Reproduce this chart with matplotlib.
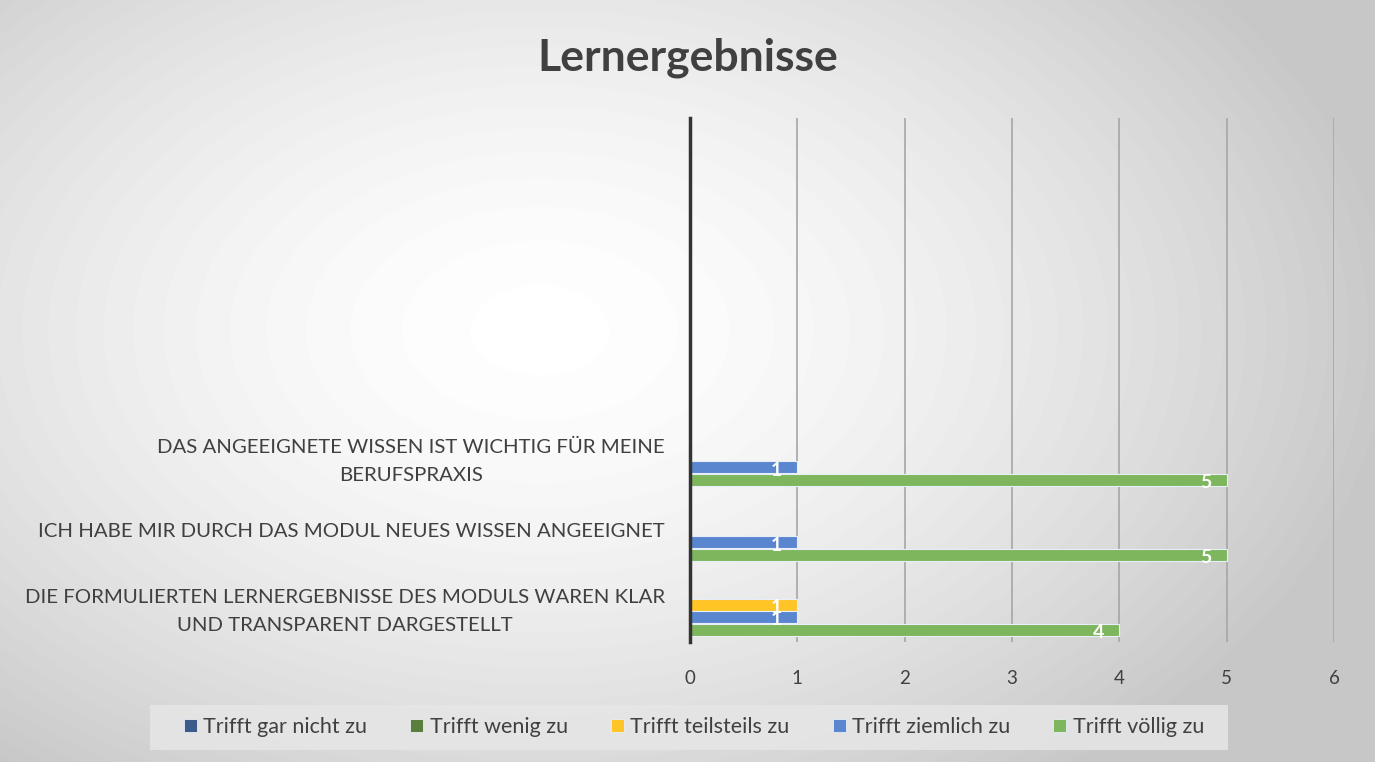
import numpy as np
import matplotlib.pyplot as plt
from matplotlib.patches import Rectangle, Patch

# Configure fonts
plt.rc('font', family=['Lato', 'DejaVu Sans'])

# Data (bottom to top, as drawn)
categories = [
    'DIE FORMULIERTEN LERNERGEBNISSE DES MODULS WAREN KLAR\nUND TRANSPARENT DARGESTELLT',
    'ICH HABE MIR DURCH DAS MODUL NEUES WISSEN ANGEEIGNET',
    'DAS ANGEEIGNETE WISSEN IST WICHTIG FÜR MEINE\nBERUFSPRAXIS',
]
series_names = ['Trifft gar nicht zu', 'Trifft wenig zu', 'Trifft teilsteils zu',
                'Trifft ziemlich zu', 'Trifft völlig zu']
gar_nicht = [0, 0, 0]
wenig = [0, 0, 0]
teilsteils = [1, 0, 0]
ziemlich = [1, 1, 1]
voellig = [4, 5, 5]
series_values = [gar_nicht, wenig, teilsteils, ziemlich, voellig]
colors = ['#3D5A8C', '#5A7F3C', '#FFC527', '#5A86CF', '#7DB65C']
x_ticks = [0, 1, 2, 3, 4, 5, 6]

text_col = '#404040'

fig = plt.figure(figsize=(13.75, 7.62), dpi=100)

# Radial gradient background
bg = fig.add_axes([0, 0, 1, 1], zorder=-10)
h, w = 762, 1375
yy, xx = np.mgrid[0:h, 0:w]
d = np.sqrt(((xx - 540) / 860.0) ** 2 + ((yy - 330) / 560.0) ** 2)
shade = 1.0 - 0.22 * np.clip(d, 0, 1) ** 1.6
bg.imshow(shade, cmap='gray', vmin=0, vmax=1, aspect='auto',
          extent=[0, 1, 0, 1], origin='upper')
bg.set_axis_off()

# Main axes
ax = fig.add_axes([690 / 1375, 1 - 642 / 762, 644 / 1375, 524 / 762])
ax.patch.set_alpha(0)

y = np.arange(len(categories))
slot = 0.168
for i, (name, vals, c) in enumerate(zip(series_names, series_values, colors)):
    pos = y + (2 - i) * slot
    ax.barh(pos, vals, height=slot * 0.96, color=c, edgecolor='#e8eef8',
            linewidth=0.8, label=name, zorder=3)
    for p, v in zip(pos, vals):
        if v:
            ax.annotate(str(v), (v, p), xytext=(-11, -2), textcoords='offset points',
                        ha='right', va='center', color='white', fontsize=14,
                        fontweight='bold', zorder=4)

ax.set_xlim(0, 6)
ax.set_ylim(-0.5, 6.5)
ax.set_xticks(x_ticks)
ax.set_xticklabels([str(t) for t in x_ticks])
ax.set_yticks(y)
ax.set_yticklabels(categories, linespacing=1.75)
for lab in ax.get_yticklabels():
    lab.set_multialignment('center')

ax.tick_params(axis='x', length=0, pad=20, labelsize=13.5, labelcolor=text_col)
ax.tick_params(axis='y', length=0, pad=18, labelsize=14.7, labelcolor=text_col)

for s in ['top', 'right', 'bottom']:
    ax.spines[s].set_visible(False)
ax.spines['left'].set_color('#333333')
ax.spines['left'].set_linewidth(2.5)
ax.spines['left'].set_zorder(5)

ax.grid(axis='x', color='#a6a6a6', linewidth=1.2, zorder=1)
ax.set_axisbelow(True)

# Title
fig.text(688 / 1375, 1 - 58 / 762, 'Lernergebnisse', ha='center', va='center',
         fontsize=32, fontweight='bold', color=text_col)

# Legend box and legend
fig.patches.append(Rectangle((150 / 1375, 1 - 750 / 762), 1078 / 1375, 45 / 762,
                             transform=fig.transFigure, facecolor='#e6e6e6',
                             edgecolor='none', alpha=0.85, zorder=0))
handles = [Patch(facecolor=c, edgecolor='#e8eef8', linewidth=0.6) for c in colors]
fig.legend(handles, series_names, loc='center', bbox_to_anchor=(694 / 1375, 1 - 727 / 762),
           ncol=5, frameon=False, fontsize=15.5, labelcolor=text_col,
           handlelength=0.6, handleheight=0.6, handletextpad=0.3, columnspacing=2.0)

plt.savefig('out.png', dpi=100)
